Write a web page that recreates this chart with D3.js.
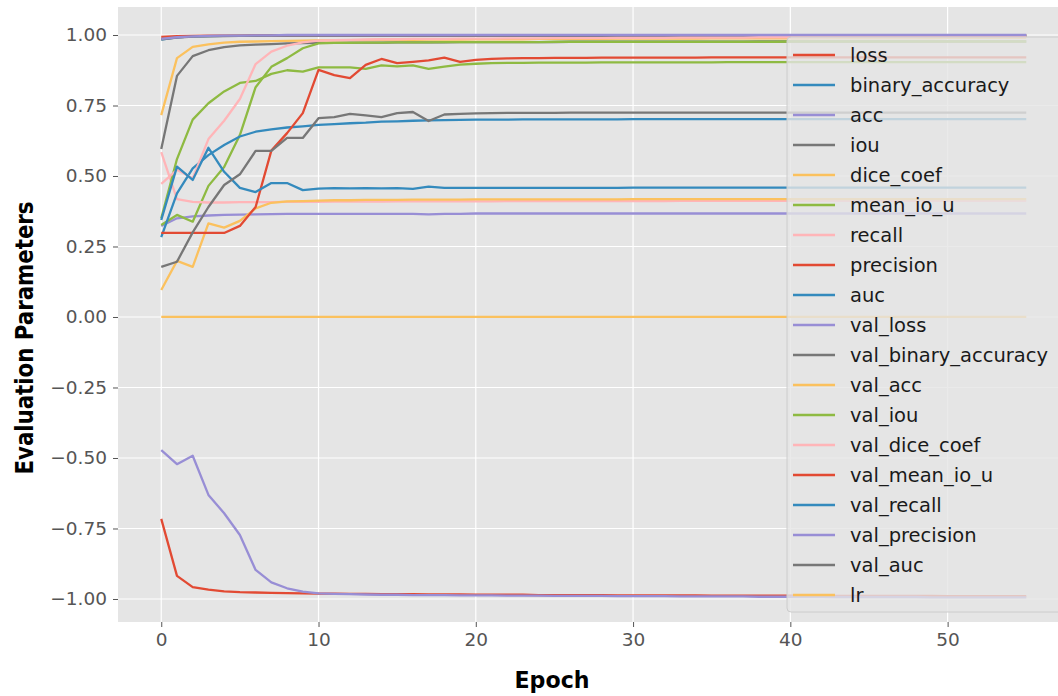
<!DOCTYPE html>
<html>
<head>
<meta charset="utf-8">
<script src="https://cdn.jsdelivr.net/npm/d3@7"></script>
<style>
  body { margin: 0; background: #fff; }
  text { font-family: "DejaVu Sans", sans-serif; }
</style>
</head>
<body>
<svg id="chart" width="1058" height="696"></svg>
<script>
// training history, one value per epoch (0..55)
const loss = [-0.716,-0.918,-0.958,-0.967,-0.973,-0.976,-0.977,-0.978,-0.979,-0.980,
  -0.981,-0.981,-0.982,-0.982,-0.983,-0.983,-0.983,-0.984,-0.984,-0.984,
  -0.985,-0.985,-0.985,-0.985,-0.986,-0.986,-0.986,-0.986,-0.986,-0.987,
  -0.987,-0.987,-0.987,-0.987,-0.987,-0.988,-0.988,-0.988,-0.988,-0.988,
  -0.988,-0.988,-0.989,-0.989,-0.989,-0.989,-0.989,-0.989,-0.989,-0.989,
  -0.990,-0.990,-0.990,-0.990,-0.990,-0.990];
const binary_accuracy = [0.984,0.992,0.995,0.996,0.997,0.997,0.998,0.998,0.998,0.998,
  0.998,0.998,0.998,0.998,0.998,0.998,0.998,0.998,0.998,0.998,
  0.998,0.998,0.998,0.998,0.998,0.998,0.998,0.998,0.998,0.998,
  0.998,0.998,0.998,0.998,0.998,0.998,0.998,0.998,0.998,0.998,
  0.998,0.998,0.998,0.998,0.998,0.998,0.998,0.998,0.998,0.998,
  0.998,0.998,0.998,0.998,0.998,0.998];
const acc = [0.323,0.350,0.357,0.360,0.362,0.363,0.364,0.365,0.366,0.366,
  0.366,0.366,0.366,0.366,0.366,0.366,0.366,0.364,0.366,0.366,
  0.367,0.367,0.367,0.367,0.367,0.367,0.367,0.367,0.367,0.367,
  0.367,0.367,0.367,0.367,0.367,0.367,0.367,0.367,0.367,0.367,
  0.367,0.367,0.367,0.367,0.367,0.367,0.367,0.367,0.367,0.367,
  0.367,0.367,0.367,0.367,0.367,0.367];
const iou = [0.596,0.855,0.925,0.946,0.957,0.963,0.966,0.968,0.970,0.971,
  0.972,0.972,0.973,0.973,0.973,0.974,0.974,0.974,0.974,0.975,
  0.975,0.975,0.975,0.975,0.975,0.975,0.976,0.976,0.976,0.976,
  0.976,0.976,0.976,0.976,0.976,0.976,0.976,0.976,0.977,0.977,
  0.977,0.977,0.977,0.977,0.977,0.977,0.977,0.977,0.977,0.977,
  0.977,0.977,0.977,0.977,0.977,0.977];
const dice_coef = [0.716,0.918,0.958,0.967,0.973,0.976,0.977,0.978,0.979,0.980,
  0.981,0.981,0.982,0.982,0.983,0.983,0.983,0.984,0.984,0.984,
  0.985,0.985,0.985,0.985,0.986,0.986,0.986,0.986,0.986,0.987,
  0.987,0.987,0.987,0.987,0.987,0.988,0.988,0.988,0.988,0.988,
  0.988,0.988,0.989,0.989,0.989,0.989,0.989,0.989,0.989,0.989,
  0.990,0.990,0.990,0.990,0.990,0.990];
const mean_io_u = [0.326,0.362,0.338,0.465,0.532,0.645,0.815,0.887,0.918,0.953,
  0.970,0.972,0.972,0.973,0.973,0.974,0.974,0.974,0.975,0.975,
  0.975,0.975,0.975,0.975,0.975,0.976,0.976,0.976,0.976,0.976,
  0.976,0.976,0.976,0.976,0.976,0.976,0.976,0.976,0.976,0.976,
  0.977,0.977,0.977,0.977,0.977,0.977,0.977,0.977,0.977,0.977,
  0.977,0.977,0.977,0.977,0.977,0.977];
const recall = [0.585,0.418,0.408,0.406,0.406,0.407,0.407,0.407,0.408,0.408,
  0.408,0.409,0.409,0.409,0.409,0.410,0.410,0.410,0.410,0.410,
  0.410,0.410,0.411,0.411,0.411,0.411,0.411,0.411,0.411,0.411,
  0.411,0.411,0.411,0.412,0.412,0.412,0.412,0.412,0.412,0.412,
  0.412,0.412,0.412,0.412,0.412,0.412,0.412,0.412,0.412,0.412,
  0.412,0.412,0.412,0.412,0.412,0.412];
const precision = [0.993,0.996,0.997,0.998,0.998,0.998,0.999,0.999,0.999,0.999,
  0.999,0.999,0.999,0.999,0.999,0.999,0.999,0.999,0.999,0.999,
  0.999,0.999,0.999,0.999,0.999,0.999,0.999,0.999,0.999,0.999,
  0.999,0.999,0.999,0.999,0.999,0.999,0.999,0.999,0.999,0.999,
  0.999,0.999,0.999,0.999,0.999,0.999,0.999,0.999,0.999,0.999,
  0.999,0.999,0.999,0.999,0.999,0.999];
const auc = [0.283,0.438,0.527,0.574,0.610,0.640,0.657,0.665,0.672,0.676,
  0.681,0.684,0.687,0.689,0.693,0.694,0.696,0.697,0.698,0.699,
  0.700,0.700,0.700,0.701,0.701,0.701,0.701,0.701,0.701,0.701,
  0.702,0.702,0.702,0.702,0.702,0.702,0.702,0.702,0.702,0.702,
  0.702,0.702,0.702,0.702,0.702,0.702,0.702,0.702,0.702,0.702,
  0.702,0.702,0.702,0.702,0.702,0.702];
const val_loss = [-0.472,-0.522,-0.492,-0.631,-0.696,-0.773,-0.897,-0.941,-0.962,-0.974,
  -0.980,-0.982,-0.983,-0.984,-0.985,-0.985,-0.986,-0.986,-0.986,-0.987,
  -0.987,-0.987,-0.988,-0.988,-0.988,-0.989,-0.989,-0.989,-0.989,-0.990,
  -0.990,-0.990,-0.990,-0.991,-0.991,-0.991,-0.991,-0.991,-0.992,-0.992,
  -0.992,-0.992,-0.992,-0.993,-0.993,-0.993,-0.993,-0.993,-0.993,-0.994,
  -0.994,-0.994,-0.994,-0.994,-0.994,-0.994];
const val_binary_accuracy = [0.985,0.991,0.994,0.995,0.996,0.997,0.997,0.998,0.998,0.998,
  0.998,0.998,0.998,0.998,0.998,0.998,0.998,0.998,0.998,0.998,
  0.998,0.998,0.998,0.998,0.998,0.998,0.998,0.998,0.998,0.998,
  0.998,0.998,0.998,0.998,0.998,0.998,0.998,0.998,0.998,0.998,
  0.998,0.998,0.998,0.998,0.998,0.998,0.998,0.998,0.998,0.998,
  0.998,0.998,0.998,0.998,0.998,0.998];
const val_acc = [0.096,0.199,0.178,0.332,0.317,0.341,0.385,0.405,0.410,0.411,
  0.413,0.414,0.414,0.415,0.415,0.415,0.416,0.416,0.416,0.416,
  0.417,0.417,0.417,0.417,0.417,0.417,0.417,0.417,0.417,0.417,
  0.418,0.418,0.418,0.418,0.418,0.418,0.418,0.418,0.418,0.418,
  0.418,0.418,0.418,0.418,0.418,0.418,0.418,0.418,0.418,0.418,
  0.418,0.418,0.418,0.418,0.418,0.418];
const val_iou = [0.350,0.560,0.700,0.758,0.800,0.830,0.837,0.862,0.875,0.870,
  0.885,0.885,0.885,0.880,0.892,0.889,0.892,0.880,0.888,0.895,
  0.898,0.900,0.901,0.901,0.902,0.902,0.902,0.902,0.903,0.903,
  0.903,0.903,0.903,0.903,0.903,0.903,0.904,0.904,0.904,0.904,
  0.904,0.904,0.904,0.904,0.904,0.904,0.904,0.904,0.904,0.904,
  0.904,0.904,0.904,0.904,0.904,0.904];
const val_dice_coef = [0.472,0.522,0.492,0.631,0.696,0.773,0.897,0.941,0.962,0.974,
  0.980,0.982,0.983,0.984,0.985,0.985,0.986,0.986,0.986,0.987,
  0.987,0.987,0.988,0.988,0.988,0.989,0.989,0.989,0.989,0.990,
  0.990,0.990,0.990,0.991,0.991,0.991,0.991,0.991,0.992,0.992,
  0.992,0.992,0.992,0.993,0.993,0.993,0.993,0.993,0.993,0.994,
  0.994,0.994,0.994,0.994,0.994,0.994];
const val_mean_io_u = [0.298,0.298,0.298,0.298,0.298,0.323,0.390,0.590,0.652,0.723,
  0.876,0.858,0.847,0.894,0.915,0.900,0.905,0.910,0.920,0.905,
  0.912,0.915,0.917,0.918,0.918,0.919,0.919,0.919,0.920,0.920,
  0.920,0.920,0.920,0.920,0.920,0.921,0.921,0.921,0.921,0.921,
  0.921,0.921,0.921,0.921,0.921,0.921,0.921,0.921,0.921,0.921,
  0.921,0.921,0.921,0.921,0.921,0.921];
const val_recall = [0.344,0.533,0.486,0.600,0.515,0.458,0.443,0.475,0.475,0.450,
  0.455,0.457,0.456,0.457,0.456,0.457,0.454,0.462,0.458,0.458,
  0.458,0.458,0.458,0.458,0.458,0.458,0.458,0.458,0.458,0.458,
  0.459,0.459,0.459,0.459,0.459,0.459,0.459,0.459,0.459,0.459,
  0.459,0.459,0.459,0.459,0.459,0.459,0.459,0.459,0.459,0.459,
  0.459,0.459,0.459,0.459,0.459,0.459];
const val_precision = [0.986,0.992,0.995,0.997,0.998,0.998,0.999,0.999,1.000,1.000,
  1.000,1.000,1.000,1.000,1.000,1.000,1.000,1.000,1.000,1.000,
  1.000,1.000,1.000,1.000,1.000,1.000,1.000,1.000,1.000,1.000,
  1.000,1.000,1.000,1.000,1.000,1.000,1.000,1.000,1.000,1.000,
  1.000,1.000,1.000,1.000,1.000,1.000,1.000,1.000,1.000,1.000,
  1.000,1.000,1.000,1.000,1.000,1.000];
const val_auc = [0.178,0.196,0.300,0.390,0.468,0.506,0.589,0.589,0.635,0.635,
  0.705,0.709,0.720,0.715,0.709,0.723,0.727,0.695,0.718,0.720,
  0.722,0.723,0.724,0.724,0.724,0.724,0.725,0.725,0.725,0.725,
  0.725,0.725,0.725,0.725,0.725,0.725,0.725,0.725,0.725,0.725,
  0.725,0.725,0.725,0.725,0.725,0.725,0.725,0.725,0.725,0.725,
  0.725,0.725,0.725,0.725,0.725,0.725];
const lr = [0.0001,0.0001,0.0001,0.0001,0.0001,0.0001,0.0001,0.0001,0.0001,0.0001,
  0.0001,0.0001,0.0001,0.0001,0.0001,0.0001,0.0001,0.0001,0.0001,0.0001,
  0.0001,0.0001,0.0001,0.0001,0.0001,0.0001,0.0001,0.0001,0.0001,0.0001,
  0.0001,0.0001,0.0001,0.0001,0.0001,0.0001,0.0001,0.0001,0.0001,0.0001,
  0.0001,0.0001,0.0001,0.0001,0.0001,0.0001,0.0001,0.0001,0.0001,0.0001,
  0.0001,0.0001,0.0001,0.0001,0.0001,0.0001];

const seriesNames = ['loss','binary_accuracy','acc','iou','dice_coef','mean_io_u','recall',
  'precision','auc','val_loss','val_binary_accuracy','val_acc','val_iou','val_dice_coef',
  'val_mean_io_u','val_recall','val_precision','val_auc','lr'];
const seriesValues = [loss, binary_accuracy, acc, iou, dice_coef, mean_io_u, recall,
  precision, auc, val_loss, val_binary_accuracy, val_acc, val_iou, val_dice_coef,
  val_mean_io_u, val_recall, val_precision, val_auc, lr];

const xTicks = [0, 10, 20, 30, 40, 50];
const yTicks = [-1, -0.75, -0.5, -0.25, 0, 0.25, 0.5, 0.75, 1];

// ggplot style colour cycle
const palette = ['#E24A33','#348ABD','#988ED5','#777777','#FBC15E','#8EBA42','#FFB5B8'];

const svg = d3.select('#chart');
const plotLeft = 118, plotRight = 1069.5, plotTop = 7, plotBottom = 622;

const x = d3.scaleLinear().domain([-2.75, 57.75]).range([plotLeft, plotRight]);
const y = d3.scaleLinear().domain([-1.0816, 1.0993]).range([plotBottom, plotTop]);

svg.append('defs').append('clipPath').attr('id', 'plotclip')
  .append('rect').attr('x', plotLeft).attr('y', plotTop)
  .attr('width', plotRight - plotLeft).attr('height', plotBottom - plotTop);

svg.append('rect')
  .attr('x', plotLeft).attr('y', plotTop)
  .attr('width', plotRight - plotLeft).attr('height', plotBottom - plotTop)
  .attr('fill', '#E5E5E5');

// grid
const grid = svg.append('g').attr('stroke', '#fff').attr('stroke-width', 1.2);
grid.selectAll('line.vx').data(xTicks).enter().append('line')
  .attr('x1', d => x(d)).attr('x2', d => x(d))
  .attr('y1', plotTop).attr('y2', plotBottom);
grid.selectAll('line.hy').data(yTicks).enter().append('line')
  .attr('x1', plotLeft).attr('x2', plotRight)
  .attr('y1', d => y(d)).attr('y2', d => y(d));

// axes
const xAxis = svg.append('g')
  .attr('transform', `translate(0,${plotBottom})`)
  .call(d3.axisBottom(x).tickValues(xTicks).tickSize(5).tickPadding(6).tickFormat(d3.format('d')));
const yAxis = svg.append('g')
  .attr('transform', `translate(${plotLeft},0)`)
  .call(d3.axisLeft(y).tickValues(yTicks).tickSize(5).tickPadding(6).tickFormat(d3.format('.2f')));
[xAxis, yAxis].forEach(g => {
  g.select('.domain').remove();
  g.selectAll('.tick line').attr('stroke', '#555').attr('stroke-width', 1);
  g.selectAll('.tick text')
    .attr('fill', '#555')
    .style('font-family', '"DejaVu Sans", sans-serif')
    .style('font-size', '18.5px');
});

// lines
const lineGen = d3.line()
  .x((d, i) => x(i))
  .y(d => y(d));

svg.append('g').attr('clip-path', 'url(#plotclip)')
  .selectAll('path.series')
  .data(seriesValues)
  .enter()
  .append('path')
  .classed('series', true)
  .attr('fill', 'none')
  .attr('stroke', (d, i) => palette[i % palette.length])
  .attr('stroke-width', 2.3)
  .attr('stroke-linejoin', 'round')
  .attr('d', lineGen);

// legend
const legend = svg.append('g');
legend.append('rect')
  .attr('x', 787).attr('y', 37)
  .attr('width', 290).attr('height', 575)
  .attr('rx', 4)
  .attr('fill', '#E5E5E5').attr('fill-opacity', 0.8)
  .attr('stroke', '#CCCCCC').attr('stroke-width', 1);

const rows = legend.selectAll('g.row')
  .data(seriesNames)
  .enter()
  .append('g')
  .classed('row', true)
  .attr('transform', (d, i) => `translate(0,${55 + i * 30})`);
rows.append('line')
  .attr('x1', 793).attr('x2', 835)
  .attr('y1', 0).attr('y2', 0)
  .attr('stroke', (d, i) => palette[i % palette.length])
  .attr('stroke-width', 2.3);
rows.append('text')
  .attr('x', 850).attr('y', 0)
  .attr('dy', '0.36em')
  .attr('fill', '#1a1a1a')
  .style('font-size', '19.5px')
  .text(d => d);

// axis labels (slightly narrow, tall bold type as in the source)
svg.append('text')
  .attr('x', 552).attr('y', 688)
  .attr('text-anchor', 'middle')
  .attr('fill', '#000')
  .attr('textLength', 75).attr('lengthAdjust', 'spacingAndGlyphs')
  .style('font-size', '23px').style('font-weight', 'bold')
  .text('Epoch');
svg.append('text')
  .attr('transform', 'translate(33,338) rotate(-90)')
  .attr('text-anchor', 'middle')
  .attr('fill', '#000')
  .attr('textLength', 273).attr('lengthAdjust', 'spacingAndGlyphs')
  .style('font-size', '24px').style('font-weight', 'bold')
  .text('Evaluation Parameters');
</script>
</body>
</html>
